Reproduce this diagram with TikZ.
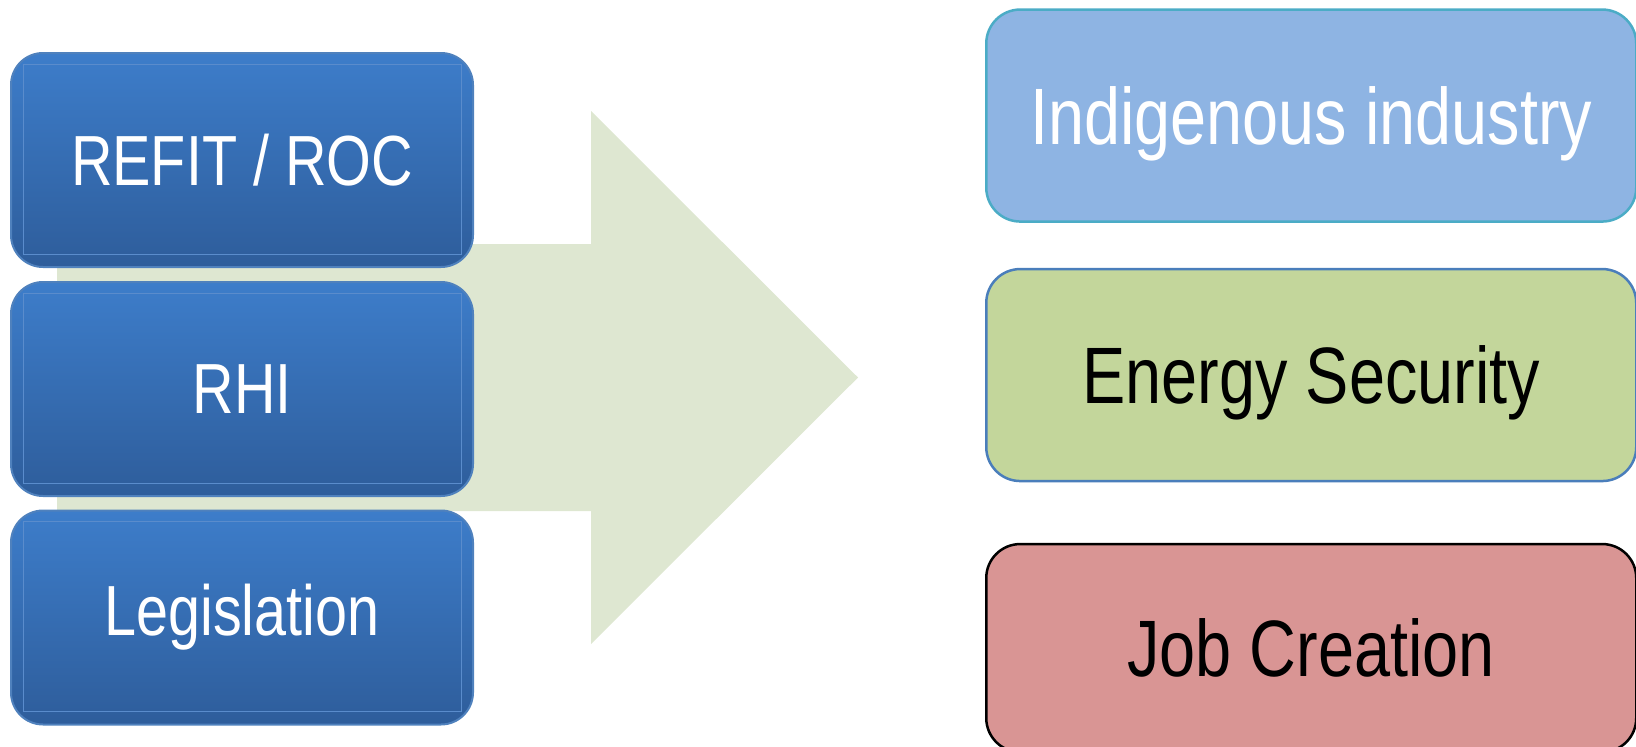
\documentclass[tikz,border=0pt]{standalone}
\usepackage{fontspec}
\setmainfont{Liberation Sans}[FakeStretch=0.81]
\usepackage{xcolor}
\usetikzlibrary{positioning}
\definecolor{tooltop}{RGB}{61,125,202}
\definecolor{toolbot}{RGB}{46,93,155}
\definecolor{toolline}{RGB}{79,129,189}
\definecolor{toolbevel}{RGB}{90,140,204}
\definecolor{arrowgreen}{RGB}{222,231,209}
\definecolor{indblue}{RGB}{142,180,227}
\definecolor{indline}{RGB}{75,172,198}
\definecolor{secgreen}{RGB}{195,214,155}
\definecolor{secline}{RGB}{74,126,187}
\definecolor{jobred}{RGB}{217,149,148}

\begin{document}
\begin{tikzpicture}[
    x=1pt, y=-1pt,
    tool/.style={rounded corners=32pt, draw=toolline, line width=2pt, top color=tooltop, bottom color=toolbot,
        minimum width=462pt, minimum height=214pt, inner sep=0pt, text=white, font=\fontsize{71}{80}\selectfont,
        path picture={\draw[toolbevel, line width=1pt, sharp corners]
            ([shift={(12pt,13pt)}]path picture bounding box.south west) rectangle
            ([shift={(-12pt,-11pt)}]path picture bounding box.north east);}},
    goal/.style={rounded corners=34pt, line width=2.5pt, minimum width=650pt, minimum height=212pt,
        inner sep=0pt, font=\fontsize{80}{90}\selectfont, text height=57pt, text depth=0pt},
    indbox/.style={goal, draw=indline, fill=indblue, text=white},
    secbox/.style={goal, draw=secline, fill=secgreen},
    jobbox/.style={goal, draw=black, fill=jobred}
]
\useasboundingbox (0,0) rectangle (1636,747);

\fill[arrowgreen] (57,244) -- (591,244) -- (591,111) -- (858,377.5) -- (591,644) -- (591,511) -- (57,511) -- cycle;

\node[tool, anchor=north west] (refit) at (10,52) {REFIT / ROC};
\node[tool, below=13pt of refit] (rhi) {RHI};
\node[tool, below=12.5pt of rhi] (legis) {Legislation};

\node[indbox, anchor=north west] (indig) at (985,8.3) {Indigenous industry};
\node[secbox, below=45pt of indig] (secur) {Energy Security};
\node[jobbox, below=60.5pt of secur, minimum height=208pt] (jobs) {Job Creation};
\end{tikzpicture}
\end{document}
